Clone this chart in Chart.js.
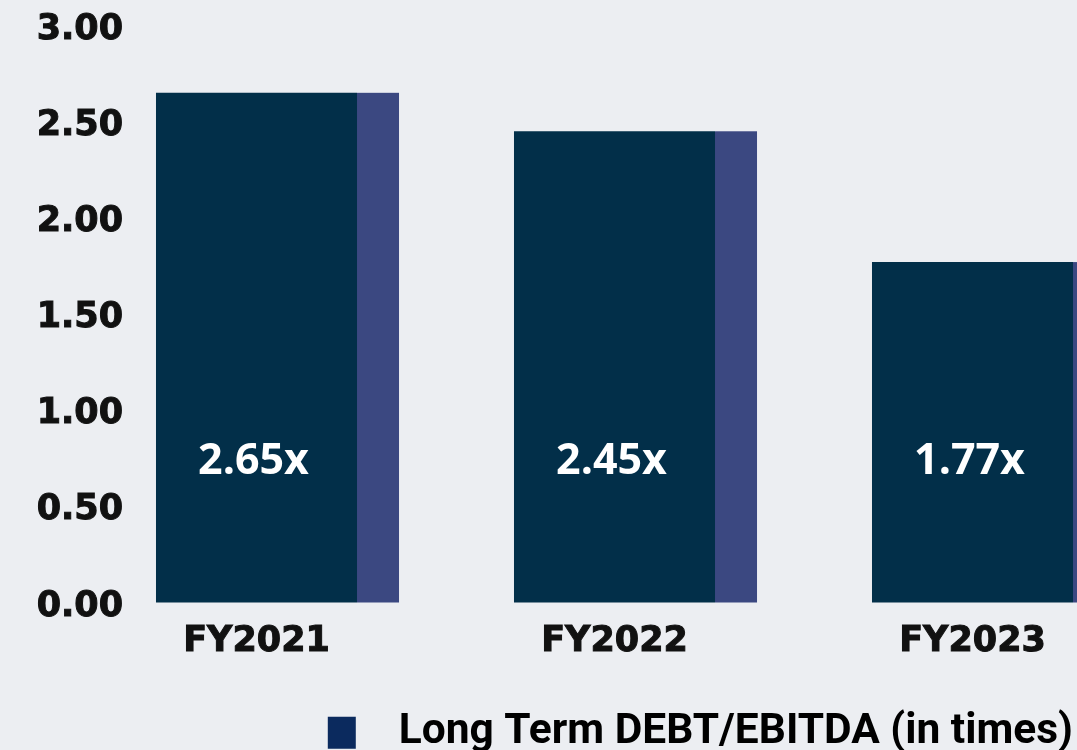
<!DOCTYPE html>
<html>
<head>
<meta charset="utf-8">
<script src="https://cdn.jsdelivr.net/npm/chart.js@4.4.0/dist/chart.umd.min.js"></script>
<style>
html, body { margin: 0; padding: 0; overflow: hidden; background: #eceef2; }
#wrap { width: 1077px; height: 764px; position: relative; }
</style>
</head>
<body>
<div id="wrap"><canvas id="chart-area"></canvas></div>
<script>
var categories = ['FY2021', 'FY2022', 'FY2023'];
var debtEbitda = [2.65, 2.45, 1.77];
var seriesName = 'Long Term DEBT/EBITDA (in times)';
var yMin = 0, yMax = 3, yStep = 0.5;
var labelLevel = 0.73; // where the "x" labels sit inside the bars

// purple strip on the right side of every bar
var sideStrip = {
    id: 'sideStrip',
    beforeDatasetsDraw: function (chart) {
        var ctx = chart.ctx;
        ctx.save();
        ctx.fillStyle = '#3b4881';
        chart.getDatasetMeta(0).data.forEach(function (bar) {
            ctx.fillRect(bar.x + bar.width / 2, bar.y, bar.width * 0.209, bar.base - bar.y);
        });
        ctx.restore();
    }
};

var valueLabels = {
    id: 'valueLabels',
    afterDatasetsDraw: function (chart) {
        var ctx = chart.ctx;
        var y = chart.scales.y.getPixelForValue(labelLevel);
        ctx.save();
        ctx.font = 'bold 43px "Open Sans"';
        ctx.fillStyle = '#ffffff';
        ctx.textAlign = 'center';
        ctx.textBaseline = 'middle';
        chart.getDatasetMeta(0).data.forEach(function (bar, i) {
            ctx.fillText(debtEbitda[i].toFixed(2) + 'x', bar.x - 3, y);
        });
        ctx.restore();
    }
};

var tickFont = { family: '"DejaVu Sans"', weight: 'bold', size: 35 };

var config = {
    type: 'bar',
    data: {
        labels: categories,
        datasets: [{
            label: seriesName,
            data: debtEbitda,
            backgroundColor: '#022f49',
            borderWidth: 0,
            categoryPercentage: 1,
            barPercentage: 0.5615,
            clip: false
        }]
    },
    options: {
        responsive: true,
        maintainAspectRatio: false,
        animation: false,
        layout: { padding: { top: 25.5, left: 0, right: 0, bottom: 0 } },
        scales: {
            x: {
                offset: false,
                grid: { display: false, drawTicks: false },
                border: { display: false },
                afterFit: function (scale) { scale.height = 105; },
                ticks: {
                    padding: 18.5,
                    maxRotation: 0,
                    color: '#111111',
                    textStrokeColor: '#111111',
                    textStrokeWidth: 1,
                    font: tickFont
                }
            },
            y: {
                min: yMin,
                max: yMax,
                grid: { display: false, drawTicks: false },
                border: { display: false },
                afterFit: function (scale) {
                    scale.width = 256.5;
                    scale.paddingTop = 0;
                    scale.paddingBottom = 0;
                },
                ticks: {
                    stepSize: yStep,
                    padding: 133.5,
                    labelOffset: 4,
                    color: '#111111',
                    textStrokeColor: '#111111',
                    textStrokeWidth: 1,
                    font: tickFont,
                    callback: function (v) { return Number(v).toFixed(2); }
                }
            },
            yRight: {
                position: 'right',
                grid: { display: false, drawTicks: false },
                border: { display: false },
                ticks: { display: false },
                afterFit: function (scale) { scale.width = 104.5; }
            }
        },
        plugins: {
            tooltip: { enabled: false },
            legend: {
                position: 'bottom',
                align: 'end',
                labels: {
                    boxWidth: 28,
                    boxHeight: 32,
                    padding: 4,
                    color: '#0f2d63',
                    font: { family: 'Roboto', weight: 'bold', size: 42.5 },
                    generateLabels: function (chart) {
                        return [{
                            text: '\u2002' + seriesName,
                            fillStyle: '#0b2a5e',
                            strokeStyle: '#0b2a5e',
                            lineWidth: 0,
                            datasetIndex: 0
                        }];
                    }
                }
            }
        }
    },
    plugins: [sideStrip, valueLabels]
};

var ctx = document.getElementById('chart-area').getContext('2d');
window.myBar = new Chart(ctx, config);
</script>
</body>
</html>
